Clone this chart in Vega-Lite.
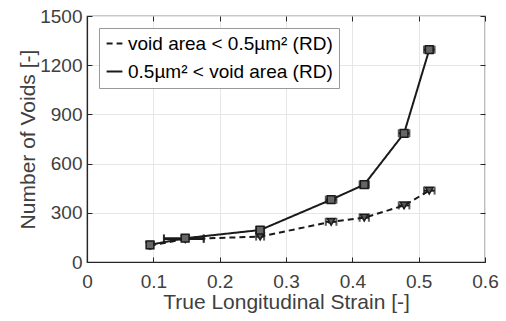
{
  "$schema": "https://vega.github.io/schema/vega-lite/v6.json",
  "autosize": "none",
  "width": 398,
  "height": 246,
  "padding": {"left": 87, "top": 16, "right": 21, "bottom": 59},
  "background": "white",
  "config": {
    "font": "Liberation Sans",
    "view": {"stroke": "#262626", "strokeWidth": 1.2},
    "axis": {
      "labelFont": "Liberation Sans",
      "titleFont": "Liberation Sans",
      "labelFontSize": 19,
      "titleFontSize": 21,
      "labelColor": "#404040",
      "titleColor": "#404040",
      "titleFontWeight": "normal",
      "domainColor": "#262626",
      "tickColor": "#262626",
      "gridColor": "#e6e6e6",
      "domainWidth": 1.2
    }
  },
  "data": {
    "values": [
      {"series": "small", "x": 0.095, "y": 100, "xlo": 0.093, "xhi": 0.097},
      {"series": "small", "x": 0.148, "y": 140, "xlo": 0.116, "xhi": 0.176},
      {"series": "small", "x": 0.261, "y": 155, "xlo": 0.255, "xhi": 0.267},
      {"series": "small", "x": 0.368, "y": 245, "xlo": 0.36, "xhi": 0.376},
      {"series": "small", "x": 0.418, "y": 270, "xlo": 0.411, "xhi": 0.425},
      {"series": "small", "x": 0.478, "y": 345, "xlo": 0.47, "xhi": 0.486},
      {"series": "small", "x": 0.516, "y": 435, "xlo": 0.508, "xhi": 0.524},
      {"series": "large", "x": 0.095, "y": 105, "xlo": 0.093, "xhi": 0.097},
      {"series": "large", "x": 0.148, "y": 145, "xlo": 0.116, "xhi": 0.176},
      {"series": "large", "x": 0.261, "y": 195, "xlo": 0.255, "xhi": 0.267},
      {"series": "large", "x": 0.368, "y": 380, "xlo": 0.36, "xhi": 0.376},
      {"series": "large", "x": 0.418, "y": 472, "xlo": 0.411, "xhi": 0.425},
      {"series": "large", "x": 0.478, "y": 785, "xlo": 0.47, "xhi": 0.486},
      {"series": "large", "x": 0.516, "y": 1295, "xlo": 0.508, "xhi": 0.524}
    ]
  },
  "resolve": {"axis": {"x": "independent", "y": "independent"}},
  "layer": [
    {
      "mark": {"type": "line", "color": "#1a1a1a", "strokeWidth": 2},
      "encoding": {
        "x": {
          "field": "x", "type": "quantitative",
          "scale": {"domain": [0, 0.6], "nice": false},
          "axis": {"title": "True Longitudinal Strain [-]", "values": [0, 0.1, 0.2, 0.3, 0.4, 0.5, 0.6], "format": "~g", "tickSize": -5, "labelPadding": 15, "titlePadding": 0, "labelFlush": false}
        },
        "y": {
          "field": "y", "type": "quantitative",
          "scale": {"domain": [0, 1500], "nice": false},
          "axis": {"title": "Number of Voids [-]", "values": [0, 300, 600, 900, 1200, 1500], "format": "d", "tickSize": -5, "labelPadding": 10, "titlePadding": 1, "labelFlush": false}
        },
        "strokeDash": {
          "field": "series", "type": "nominal",
          "scale": {"domain": ["small", "large"], "range": [[6, 4], [1, 0]]},
          "legend": {
            "title": null,
            "orient": "top-left",
            "offset": 12,
            "labelExpr": "datum.value == 'small' ? 'void area < 0.5µm² (RD)' : '0.5µm² < void area (RD)'",
            "labelFont": "Liberation Sans",
            "labelFontSize": 19,
            "labelLimit": 400,
            "labelColor": "#000000",
            "symbolType": "stroke",
            "symbolStrokeColor": "#1a1a1a",
            "symbolStrokeWidth": 2,
            "symbolSize": 250,
            "rowPadding": 8,
            "padding": 6,
            "strokeColor": "#999999",
            "fillColor": "white"
          }
        },
        "detail": {"field": "series"}
      }
    },
    {
      "mark": {"type": "errorbar", "ticks": {"size": 8, "color": "#1a1a1a"}, "color": "#1a1a1a", "thickness": 2},
      "encoding": {
        "x": {"field": "xlo", "type": "quantitative", "axis": null},
        "x2": {"field": "xhi"},
        "y": {"field": "y", "type": "quantitative", "axis": null},
        "detail": {"field": "series"}
      }
    },
    {
      "transform": [{"filter": "datum.series == 'small'"}],
      "mark": {"type": "point", "shape": "triangle-down", "filled": true, "fill": "#555555", "stroke": "#1a1a1a", "strokeWidth": 1.5, "size": 60, "opacity": 1},
      "encoding": {
        "x": {"field": "x", "type": "quantitative", "axis": null},
        "y": {"field": "y", "type": "quantitative", "axis": null}
      }
    },
    {
      "transform": [{"filter": "datum.series == 'large'"}],
      "mark": {"type": "point", "shape": "square", "filled": true, "fill": "#666666", "stroke": "#1a1a1a", "strokeWidth": 1.5, "size": 60, "opacity": 1},
      "encoding": {
        "x": {"field": "x", "type": "quantitative", "axis": {"orient": "top", "labels": false, "title": null, "grid": false, "domain": false, "tickSize": -5, "values": [0, 0.1, 0.2, 0.3, 0.4, 0.5, 0.6]}},
        "y": {"field": "y", "type": "quantitative", "axis": {"orient": "right", "labels": false, "title": null, "grid": false, "domain": false, "tickSize": -5, "values": [0, 300, 600, 900, 1200, 1500]}}
      }
    }
  ]
}
